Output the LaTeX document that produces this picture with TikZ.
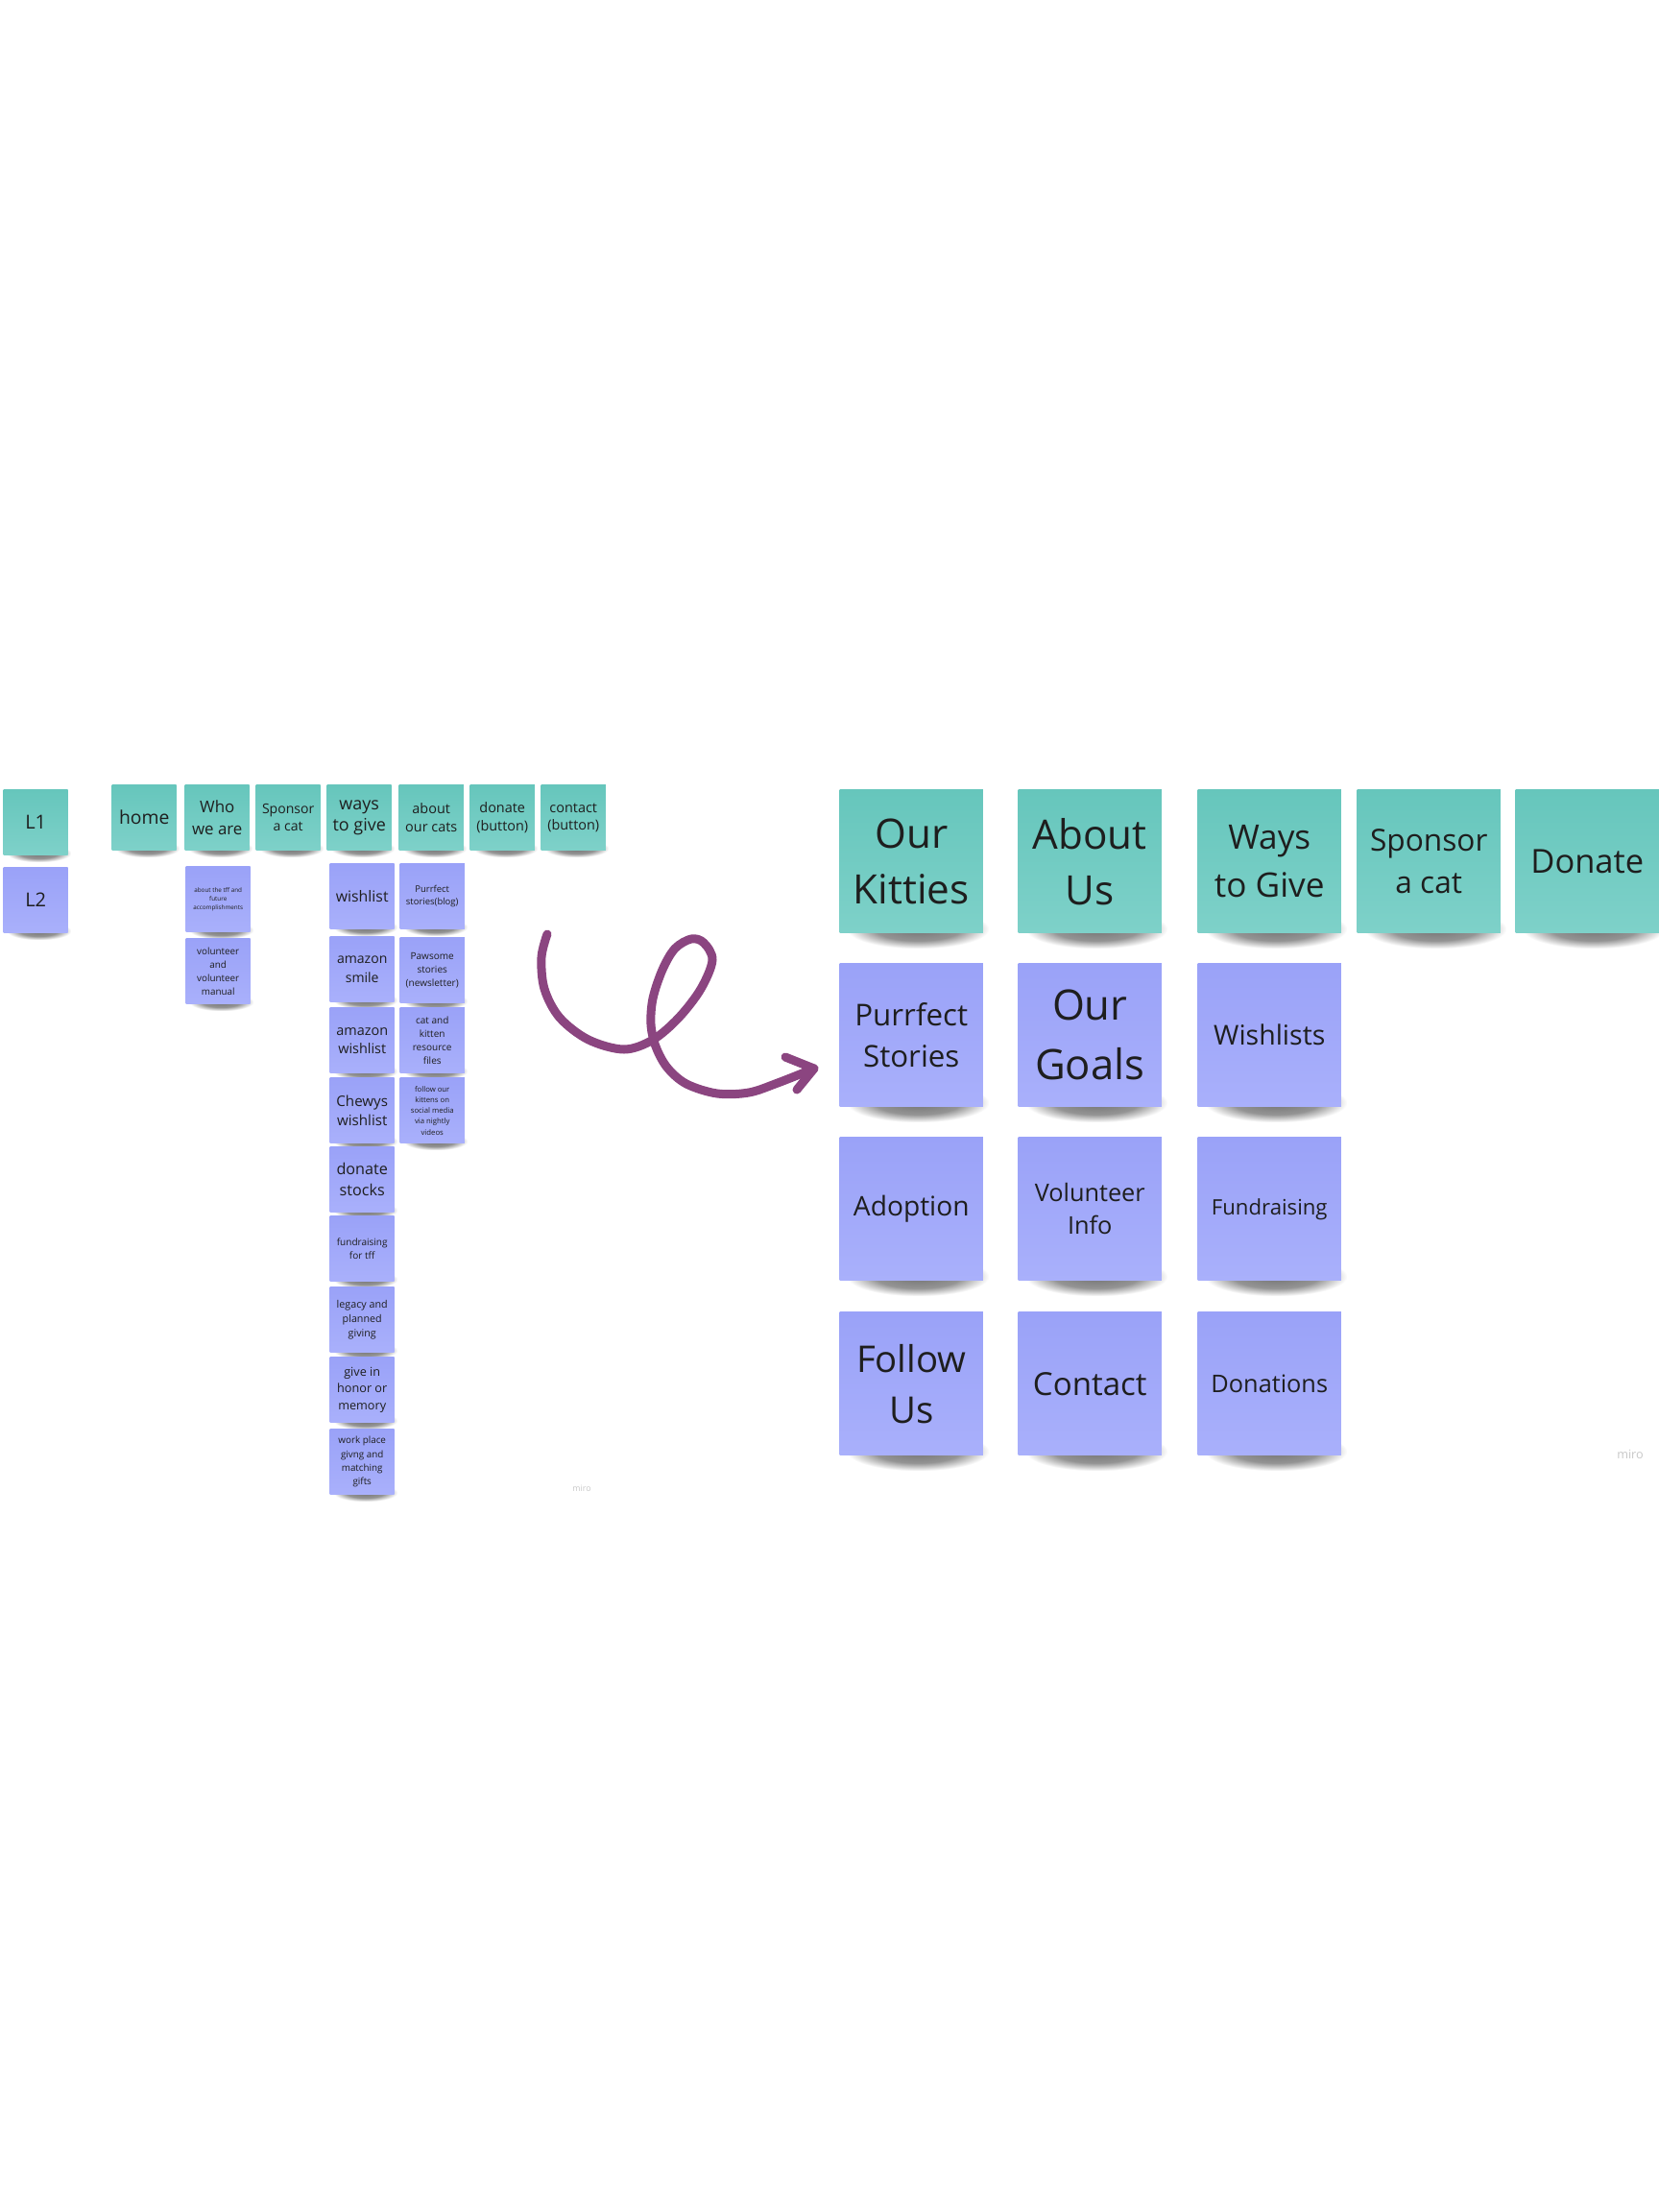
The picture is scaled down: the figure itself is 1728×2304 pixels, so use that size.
\documentclass[tikz,border=0pt]{standalone}
\usepackage{fontspec}
\setmainfont{Open Sans}
\usetikzlibrary{fadings}
\definecolor{tealA}{HTML}{66C6BC}
\definecolor{tealB}{HTML}{7ED1C9}
\definecolor{lavA}{HTML}{9AA2F8}
\definecolor{lavB}{HTML}{A9B0FB}
\definecolor{inkc}{HTML}{1E1E1E}
\definecolor{arrowc}{HTML}{8B4580}
\definecolor{miroc}{HTML}{C8C8C8}
\pgfdeclareradialshading{blobshade}{\pgfpointorigin}{color(0bp)=(pgftransparent!45); color(15bp)=(pgftransparent!58); color(25bp)=(pgftransparent!100); color(50bp)=(pgftransparent!100)}
\pgfdeclarefading{blob}{\pgfuseshading{blobshade}}
\tikzset{
  bignote/.style={rectangle, anchor=north west, minimum width=1.49cm, minimum height=1.49cm, inner sep=0pt, align=center, text=inkc},
  smallnote/.style={rectangle, anchor=north west, minimum width=0.67cm, minimum height=0.68cm, inner sep=0pt, align=center, text=inkc},
  tealfill/.style={top color=tealA, bottom color=tealB},
  lavfill/.style={top color=lavA, bottom color=lavB},
  watermark/.style={text=miroc, inner sep=0pt},
  doodle/.style={draw=arrowc, line width=0.09cm, line cap=round, line join=round},
  shadowblob/.style={fill=black, path fading=blob, fit fading=true}
}
\newcommand\bigstick[6]{%
  \path[shadowblob] (#3+8,#4+125) rectangle (#3+156,#4+166);
  \node[bignote, #1, font={#5}] (#2) at (#3,#4) {#6};}
\newcommand\smallstick[6]{%
  \path[shadowblob] (#3+4,#4+57) rectangle (#3+71,#4+76);
  \node[smallnote, #1, font={#5}] (#2) at (#3,#4) {#6};}
\begin{document}
\begin{tikzpicture}[x=0.01cm, y=-0.01cm]
\fill[white] (0,0) rectangle (1728,2304);
\useasboundingbox (0,0) rectangle (1728,2304);

% ---------- left: level labels ----------
\smallstick{tealfill}{L1}{3}{822}{\fontsize{5.7}{7}\selectfont}{L1}
\smallstick{lavfill}{L2}{3}{903}{\fontsize{5.7}{7}\selectfont}{L2}

% ---------- left: top row ----------
\smallstick{tealfill}{home}{116}{817}{\fontsize{5.5}{7}\selectfont}{home}
\smallstick{tealfill}{who}{192}{817}{\fontsize{4.8}{6.5}\selectfont}{Who\\we are}
\smallstick{tealfill}{spons}{266}{817}{\fontsize{4}{5.2}\selectfont}{Sponsor\\a cat}
\smallstick{tealfill}{ways}{340}{817}{\fontsize{5.1}{6.2}\selectfont}{ways\\to give}
\smallstick{tealfill}{cats}{415}{817}{\fontsize{4.1}{5.2}\selectfont}{about\\our cats}
\smallstick{tealfill}{donb}{489}{817}{\fontsize{4.1}{5.2}\selectfont}{donate\\(button)}
\smallstick{tealfill}{conb}{563}{817}{\fontsize{4.1}{5.2}\selectfont}{contact\\(button)}

% ---------- left: who we are column ----------
\smallstick{lavfill}{tff}{193}{902}{\fontsize{1.8}{2.6}\selectfont}{about the tff and\\future\\accomplishments}
\smallstick{lavfill}{volman}{193}{977}{\fontsize{2.8}{4}\selectfont}{volunteer\\and\\volunteer\\manual}

% ---------- left: ways to give column ----------
\smallstick{lavfill}{wish}{343}{899}{\fontsize{4.5}{5.5}\selectfont}{wishlist}
\smallstick{lavfill}{asmile}{343}{975}{\fontsize{4}{5.5}\selectfont}{amazon\\smile}
\smallstick{lavfill}{awish}{343}{1049}{\fontsize{4.1}{5.4}\selectfont}{amazon\\wishlist}
\smallstick{lavfill}{chewy}{343}{1122}{\fontsize{4.3}{5.7}\selectfont}{Chewys\\wishlist}
\smallstick{lavfill}{stocks}{343}{1194}{\fontsize{4.6}{6.2}\selectfont}{donate\\stocks}
\smallstick{lavfill}{fundtff}{343}{1266}{\fontsize{2.85}{3.8}\selectfont}{fundraising\\for tff}
\smallstick{lavfill}{legacy}{343}{1340}{\fontsize{3.05}{4.3}\selectfont}{legacy and\\planned\\giving}
\smallstick{lavfill}{honor}{343}{1413}{\fontsize{3.6}{4.9}\selectfont}{give in\\honor or\\memory}
\smallstick{lavfill}{work}{343}{1488}{\fontsize{2.8}{4.1}\selectfont}{work place\\givng and\\matching\\gifts}

% ---------- left: about our cats column ----------
\smallstick{lavfill}{blog}{416}{899}{\fontsize{2.7}{3.8}\selectfont}{Purrfect\\stories(blog)}
\smallstick{lavfill}{news}{416}{976}{\fontsize{2.85}{4}\selectfont}{Pawsome\\stories\\(newsletter)}
\smallstick{lavfill}{files}{416}{1049}{\fontsize{2.85}{4}\selectfont}{cat and\\kitten\\resource\\files}
\smallstick{lavfill}{social}{416}{1122}{\fontsize{2.2}{3.2}\selectfont}{follow our\\kittens on\\social media\\via nightly\\videos}

\node[watermark, font=\fontsize{2.5}{3}\selectfont] (miroL) at (606,1550) {miro};

% ---------- doodle arrow ----------
\coordinate (arrS) at (570,973);
\coordinate (arrE) at (848,1113);
\draw[doodle] plot[smooth, tension=0.55] coordinates {
  (arrS) (564,997) (567,1030) (583,1060) (613,1083) (650,1093) (680,1083)
  (707,1060) (730,1030) (742,1000) (733,982) (720,978) (703,988) (690,1010)
  (680,1040) (678,1067) (683,1090) (695,1112) (715,1129) (747,1139) (780,1138)
  (810,1128) (arrE)};
\draw[doodle] (818,1101) -- (arrE) -- (830,1135);

% ---------- right: L1 ----------
\bigstick{tealfill}{kitties}{874}{822}{\fontsize{12}{16.5}\selectfont}{Our\\Kitties}
\bigstick{tealfill}{about}{1060}{822}{\fontsize{12}{16.5}\selectfont}{About\\Us}
\bigstick{tealfill}{waysR}{1247}{822}{\fontsize{10}{14.2}\selectfont}{Ways\\to Give}
\bigstick{tealfill}{sponsR}{1413}{822}{\fontsize{9}{12.3}\selectfont}{Sponsor\\a cat}
\bigstick{tealfill}{donate}{1578}{822}{\fontsize{9.8}{12}\selectfont}{Donate}

% ---------- right: L2 ----------
\bigstick{lavfill}{purr}{874}{1003}{\fontsize{8.9}{12.3}\selectfont}{Purrfect\\Stories}
\bigstick{lavfill}{goals}{1060}{1003}{\fontsize{12.4}{17.6}\selectfont}{Our\\Goals}
\bigstick{lavfill}{wishR}{1247}{1003}{\fontsize{8.1}{10}\selectfont}{Wishlists}
\bigstick{lavfill}{adopt}{874}{1184}{\fontsize{8}{10}\selectfont}{Adoption}
\bigstick{lavfill}{volR}{1060}{1184}{\fontsize{7.2}{9.7}\selectfont}{Volunteer\\Info}
\bigstick{lavfill}{fundR}{1247}{1184}{\fontsize{6.3}{8}\selectfont}{Fundraising}
\bigstick{lavfill}{follow}{874}{1366}{\fontsize{10.9}{15}\selectfont}{Follow\\Us}
\bigstick{lavfill}{contact}{1060}{1366}{\fontsize{9.4}{11}\selectfont}{Contact}
\bigstick{lavfill}{donations}{1247}{1366}{\fontsize{7.2}{9}\selectfont}{Donations}

\node[watermark, font=\fontsize{3.6}{4}\selectfont] (miroR) at (1698,1515) {miro};
\end{tikzpicture}
\end{document}
